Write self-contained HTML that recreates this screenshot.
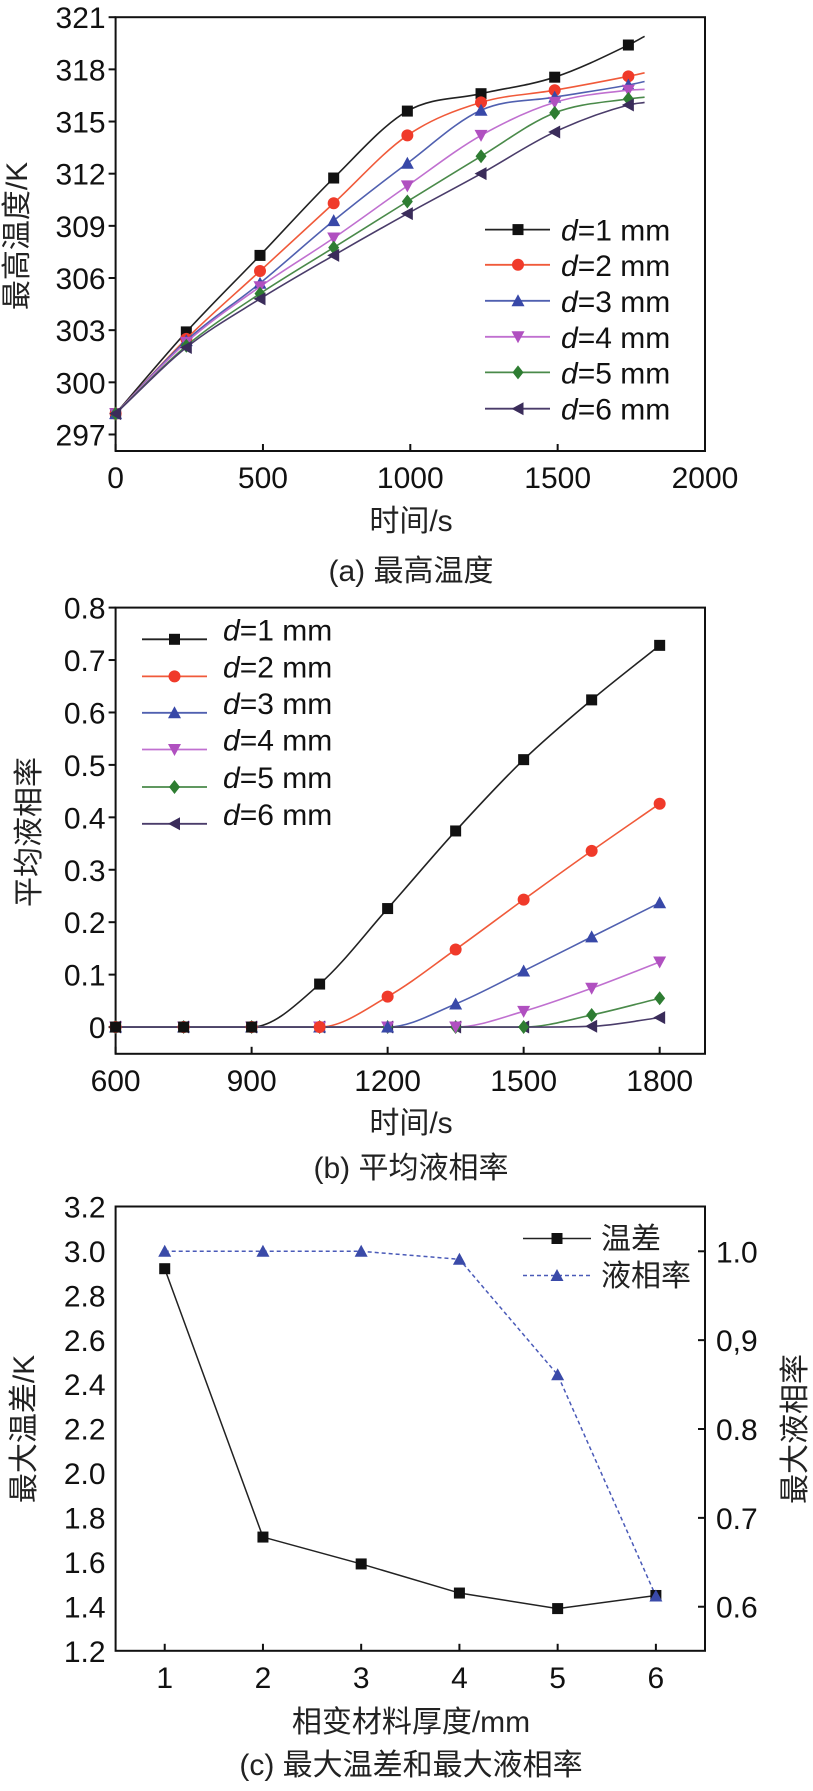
<!DOCTYPE html>
<html><head><meta charset="utf-8"><style>
html,body{margin:0;padding:0;background:#fff;}
svg{display:block;font-family:"Liberation Sans","Noto Sans CJK SC",sans-serif;}
</style></head><body>
<svg id="s" width="813" height="1791" viewBox="0 0 813 1791" xmlns="http://www.w3.org/2000/svg"></svg>
<script>
// ---- Chart (a) data ----
const aTimes=[0,240,490,740,990,1240,1490,1740,1795];
const aD1=[298.2,302.9,307.3,311.75,315.6,316.6,317.55,319.4,319.9];
const aD2=[298.2,302.5,306.4,310.3,314.2,316.1,316.8,317.6,317.8];
const aD3=[298.2,302.4,305.7,309.3,312.6,315.65,316.4,317.1,317.3];
const aD4=[298.2,302.3,305.5,308.3,311.3,314.2,316.1,316.8,316.85];
const aD5=[298.2,302.1,305.1,307.75,310.4,313.0,315.5,316.3,316.4];
const aD6=[298.2,302.0,304.8,307.3,309.7,312.0,314.4,315.95,316.1];
const aXTicks=[0,500,1000,1500,2000];
const aYTicks=[297,300,303,306,309,312,315,318,321];
// ---- Chart (b) data ----
const bTimes=[600,750,900,1050,1200,1350,1500,1650,1800];
const bD1=[0,0,0,0.082,0.226,0.374,0.510,0.624,0.728];
const bD2=[0,0,0,0,0.058,0.148,0.243,0.336,0.426];
const bD3=[0,0,0,0,0,0.044,0.107,0.172,0.237];
const bD4=[0,0,0,0,0,0,0.03,0.074,0.124];
const bD5=[0,0,0,0,0,0,0,0.023,0.055];
const bD6=[0,0,0,0,0,0,0,0.0015,0.018];
const bXTicks=[600,900,1200,1500,1800];
const bYTicks=[0,0.1,0.2,0.3,0.4,0.5,0.6,0.7,0.8];
// ---- Chart (c) data ----
const cThick=[1,2,3,4,5,6];
const cTempDiff=[2.92,1.712,1.591,1.46,1.39,1.449];
const cLiquid=[1.0,1.0,1.0,0.991,0.861,0.612];
const cXTicks=[1,2,3,4,5,6];
const cYTicks=[1.2,1.4,1.6,1.8,2.0,2.2,2.4,2.6,2.8,3.0,3.2];
const cYTickLabels=["1.2","1.4","1.6","1.8","2.0","2.2","2.4","2.6","2.8","3.0","3.2"];
const cY2Ticks=[0.6,0.7,0.8,0.9,1.0];
const cY2TickLabels=["0.6","0.7","0.8","0,9","1.0"];

const NS="http://www.w3.org/2000/svg";
const svg=document.getElementById('s');
const FT=30, FL=30, FA=30, FC=30;
function mk(tag,attrs,parent){const e=document.createElementNS(NS,tag);for(const k in attrs)e.setAttribute(k,attrs[k]);(parent||svg).appendChild(e);return e;}
function txt(str,attrs,parent){const e=mk('text',attrs,parent);e.textContent=str;return e;}
function lin(d0,d1,r0,r1){return v=>r0+(v-d0)/(d1-d0)*(r1-r0);}
function monoPath(pts){
  const n=pts.length;if(n<2)return '';
  const dx=[],m=[],t=new Array(n);
  for(let i=0;i<n-1;i++){dx[i]=pts[i+1][0]-pts[i][0];m[i]=(pts[i+1][1]-pts[i][1])/dx[i];}
  t[0]=m[0];t[n-1]=m[n-2];
  for(let i=1;i<n-1;i++){t[i]=(m[i-1]*m[i]<=0)?0:(m[i-1]+m[i])/2;}
  for(let i=0;i<n-1;i++){if(m[i]===0){t[i]=0;t[i+1]=0;continue;}
    const a=t[i]/m[i],b=t[i+1]/m[i],s=a*a+b*b;if(s>9){const k=3/Math.sqrt(s);t[i]=k*a*m[i];t[i+1]=k*b*m[i];}}
  let d='M'+pts[0][0].toFixed(2)+','+pts[0][1].toFixed(2);
  for(let i=0;i<n-1;i++){const h=dx[i]/3;
    d+=' C'+(pts[i][0]+h).toFixed(2)+','+(pts[i][1]+t[i]*h).toFixed(2)+' '+(pts[i+1][0]-h).toFixed(2)+','+(pts[i+1][1]-t[i+1]*h).toFixed(2)+' '+pts[i+1][0].toFixed(2)+','+pts[i+1][1].toFixed(2);}
  return d;
}
function marker(type,x,y,col,g){
  const s=5.5;let e;
  if(type==='sq')e=mk('rect',{x:x-s,y:y-s,width:2*s,height:2*s,fill:col},g);
  else if(type==='ci')e=mk('circle',{cx:x,cy:y,r:s+0.5,fill:col},g);
  else if(type==='up')e=mk('polygon',{points:`${x},${y-s-1} ${x+s+1},${y+s} ${x-s-1},${y+s}`,fill:col},g);
  else if(type==='dn')e=mk('polygon',{points:`${x},${y+s+1} ${x+s+1},${y-s} ${x-s-1},${y-s}`,fill:col},g);
  else if(type==='di')e=mk('polygon',{points:`${x},${y-s-1.5} ${x+s},${y} ${x},${y+s+1.5} ${x-s},${y}`,fill:col},g);
  else e=mk('polygon',{points:`${x-s-1},${y} ${x+s},${y-s-1} ${x+s},${y+s+1}`,fill:col},g);
  return e;
}
const cols=['#111111','#f03a2a','#3848a8','#b050c0','#2e7d32','#3a2c5a'];
const lcols=['#222222','#f05a3a','#5060b0','#c070d0','#4a8a4a','#4a3c6a'];
const mtypes=['sq','ci','up','dn','di','le'];
const L=115.6,R=705;

function frame(g,T,B){mk('rect',{x:L,y:T,width:R-L,height:B-T,fill:'none',stroke:'#111','stroke-width':2},g);}

// ===== Chart (a) =====
(function(){
  const g=mk('g',{});
  
  
  const T=17.2,B=451;
  const X=lin(0,2000,L,R),Y=lin(296.05,321,B,T);
  frame(g,T,B);
  aXTicks.forEach(v=>{mk('line',{x1:X(v),x2:X(v),y1:B,y2:B-7,stroke:'#111','stroke-width':2},g);
    const t=txt(String(v),{x:X(v),y:B+37,'font-size':FT,'text-anchor':'middle',fill:'#111'},g);
    });
  aYTicks.forEach(v=>{mk('line',{x1:L,x2:L-7,y1:Y(v),y2:Y(v),stroke:'#111','stroke-width':2},g);
    const t=txt(String(v),{x:L-10,y:Y(v)+11,'font-size':FT,'text-anchor':'end',fill:'#111'},g);
    });
  const series=[aD1,aD2,aD3,aD4,aD5,aD6];
  series.forEach((s,i)=>{
    const pts=aTimes.map((t,j)=>[X(t),Y(s[j])]);
    const p=mk('path',{d:monoPath(pts),fill:'none',stroke:lcols[i],'stroke-width':1.6},g);
    
    for(let j=0;j<aTimes.length-1;j++){const m=marker(mtypes[i],X(aTimes[j]),Y(s[j]),cols[i],g);
      }
  });
  const ly=[229.6,264.8,300.8,336.8,372.4,408.7];
  ly.forEach((y,i)=>{
    const lg=mk('g',{},g);
    
    mk('line',{x1:485,x2:550,y1:y,y2:y,stroke:lcols[i],'stroke-width':1.8},lg);
    marker(mtypes[i],518,y,cols[i],lg);
    const t=mk('text',{x:561,y:y+11,'font-size':FL,fill:'#111'},lg);
    t.innerHTML='<tspan font-style="italic">d</tspan>='+(i+1)+' mm';
  });
  const yt=txt('最高温度/K',{transform:'translate(27,236) rotate(-90)','font-size':FA,'text-anchor':'middle',fill:'#222'},g);
  
  const xt=txt('时间/s',{x:411,y:531,'font-size':FA,'text-anchor':'middle',fill:'#222'},g);
  
  const cp=txt('(a) 最高温度',{x:411,y:581,'font-size':FC,'text-anchor':'middle',fill:'#222'},g);
  
})();

// ===== Chart (b) =====
(function(){
  const g=mk('g',{});
  
  
  const T=607.6,B=1053.8;
  const X=lin(600,1900,L,R),Y=lin(-0.051,0.8,B,T);
  frame(g,T,B);
  bXTicks.forEach(v=>{mk('line',{x1:X(v),x2:X(v),y1:B,y2:B-7,stroke:'#111','stroke-width':2},g);
    const t=txt(String(v),{x:X(v),y:B+37,'font-size':FT,'text-anchor':'middle',fill:'#111'},g);
    });
  bYTicks.forEach(v=>{mk('line',{x1:L,x2:L-7,y1:Y(v),y2:Y(v),stroke:'#111','stroke-width':2},g);
    const t=txt(v===0?'0':v.toFixed(1),{x:L-10,y:Y(v)+11,'font-size':FT,'text-anchor':'end',fill:'#111'},g);
    });
  const series=[bD1,bD2,bD3,bD4,bD5,bD6];
  series.forEach((s,i)=>{
    const pts=bTimes.map((t,j)=>[X(t),Y(s[j])]);
    const p=mk('path',{d:monoPath(pts),fill:'none',stroke:lcols[i],'stroke-width':1.6},g);
    
  });
  series.slice().reverse().forEach((s,ri)=>{const i=5-ri;
    bTimes.forEach((t,j)=>{const m=marker(mtypes[i],X(t),Y(s[j]),cols[i],g);
      });
  });
  const ly=[639.3,676.4,712.8,749.5,787,823.8];
  ly.forEach((y,i)=>{
    const lg=mk('g',{},g);
    
    mk('line',{x1:142,x2:207,y1:y,y2:y,stroke:lcols[i],'stroke-width':1.8},lg);
    marker(mtypes[i],174.5,y,cols[i],lg);
    const t=mk('text',{x:223,y:y+1,'font-size':FL,fill:'#111'},lg);
    t.innerHTML='<tspan font-style="italic">d</tspan>='+(i+1)+' mm';
  });
  const yt=txt('平均液相率',{transform:'translate(39,832) rotate(-90)','font-size':FA,'text-anchor':'middle',fill:'#222'},g);
  
  const xt=txt('时间/s',{x:411,y:1133,'font-size':FA,'text-anchor':'middle',fill:'#222'},g);
  
  const cp=txt('(b) 平均液相率',{x:411,y:1178,'font-size':FC,'text-anchor':'middle',fill:'#222'},g);
  
})();

// ===== Chart (c) =====
(function(){
  const g=mk('g',{});
  
  
  const T=1206.5,B=1650.8;
  const X=lin(0.5,6.5,L,R),Y=lin(1.2,3.2,B,T),Y2=lin(0.5504,1.0504,B,T);
  frame(g,T,B);
  cXTicks.forEach(v=>{mk('line',{x1:X(v),x2:X(v),y1:B,y2:B-7,stroke:'#111','stroke-width':2},g);
    const t=txt(String(v),{x:X(v),y:B+37,'font-size':FT,'text-anchor':'middle',fill:'#111'},g);
    });
  cYTicks.forEach((v,i)=>{
    const t=txt(cYTickLabels[i],{x:L-10,y:Y(v)+11,'font-size':FT,'text-anchor':'end',fill:'#111'},g);
    });
  cY2Ticks.forEach((v,i)=>{mk('line',{x1:R,x2:R-7,y1:Y2(v),y2:Y2(v),stroke:'#111','stroke-width':2},g);
    const t=txt(cY2TickLabels[i],{x:R+11,y:Y2(v)+11,'font-size':FT,'text-anchor':'start',fill:'#111'},g);
    });
  const p1=mk('polyline',{points:cThick.map((t,j)=>X(t)+','+Y(cTempDiff[j])).join(' '),fill:'none',stroke:'#222','stroke-width':1.5},g);
  
  const p2=mk('polyline',{points:cThick.map((t,j)=>X(t)+','+Y2(cLiquid[j])).join(' '),fill:'none',stroke:'#4a5ab8','stroke-width':1.5,'stroke-dasharray':'4,3'},g);
  
  cThick.forEach((t,j)=>{const m=marker('sq',X(t),Y(cTempDiff[j]),'#111',g);
    });
  cThick.forEach((t,j)=>{const m=marker('up',X(t),Y2(cLiquid[j]),'#3a4aa8',g);
    });
  const lg1=mk('g',{},g);
  
  mk('line',{x1:523,x2:591,y1:1238.5,y2:1238.5,stroke:'#222','stroke-width':1.5},lg1);
  marker('sq',557,1238.5,'#111',lg1);
  txt('温差',{x:601,y:1249,'font-size':FL,fill:'#222'},lg1);
  const lg2=mk('g',{},g);
  
  mk('line',{x1:523,x2:591,y1:1275.5,y2:1275.5,stroke:'#4a5ab8','stroke-width':1.5,'stroke-dasharray':'4,3'},lg2);
  marker('up',557,1275.5,'#3a4aa8',lg2);
  txt('液相率',{x:601,y:1286,'font-size':FL,fill:'#222'},lg2);
  const yt=txt('最大温差/K',{transform:'translate(34,1429) rotate(-90)','font-size':FA,'text-anchor':'middle',fill:'#222'},g);
  
  const yt2=txt('最大液相率',{transform:'translate(805,1429) rotate(-90)','font-size':FA,'text-anchor':'middle',fill:'#222'},g);
  
  const xt=txt('相变材料厚度/mm',{x:411,y:1732,'font-size':FA,'text-anchor':'middle',fill:'#222'},g);
  
  const cp=txt('(c) 最大温差和最大液相率',{x:411,y:1775,'font-size':FC,'text-anchor':'middle',fill:'#222'},g);
  
})();
</script>
</body></html>
